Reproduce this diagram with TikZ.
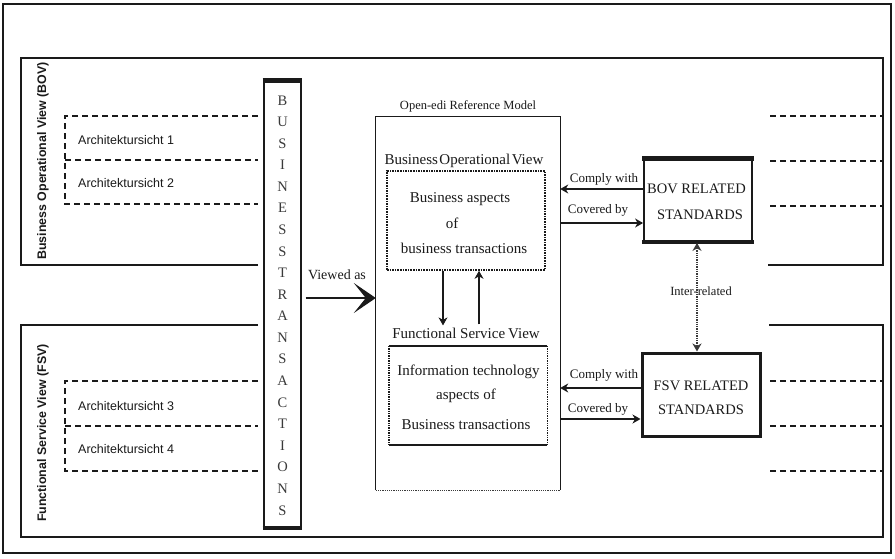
\documentclass[tikz,border=0pt]{standalone}
\usepackage{fontspec}
\setmainfont{Liberation Serif}
\setsansfont{Liberation Sans}
\usetikzlibrary{arrows.meta,calc}
\definecolor{ink}{HTML}{1A1A1A}
\definecolor{soft}{HTML}{3A3A3A}
\begin{document}
\begin{tikzpicture}[x=1pt,y=-1pt,
  band/.style={draw=ink, line width=1.1pt},
  dashline/.style={draw=ink, line width=1.1pt, dash pattern=on 6pt off 4pt},
  sanslbl/.style={font=\sffamily\fontsize{12.5}{14}\selectfont, inner sep=0, anchor=base west, text=ink},
  sidelbl/.style={font=\sffamily\bfseries\fontsize{12.4}{14}\selectfont, rotate=90, inner sep=0, text=ink},
  lbl/.style={inner sep=0, anchor=base, text=ink},
  big/.style={font=\fontsize{15}{17}\selectfont},
  mid/.style={font=\fontsize{13}{15}\selectfont},
  std/.style={font=\fontsize{14.5}{17}\selectfont},
  arr/.style={draw=ink, line width=1.1pt, -{Stealth[length=8pt,width=9pt,inset=2.5pt]}},
  column/.style={draw=ink, line width=1.4pt, minimum width=37pt, minimum height=450pt, inner sep=0, fill=white},
  plain/.style={minimum width=#1, inner sep=0},
]
\useasboundingbox (0,0) rectangle (895,558);
\fill[white] (0,0) rectangle (895,558);

% outer frame
\draw[draw=ink, line width=1.5pt] (3,4) rectangle (891,553);

% Business Operational View band
\draw[band] (258,265) -- (21,265) -- (21,58) -- (883,58) -- (883,265) -- (768,265);
% Functional Service View band
\draw[band] (258,325) -- (21,325) -- (21,537) -- (883,537) -- (883,325) -- (769,325);

\node[sidelbl] (bovside) at (43,161) {Business Operational View (BOV)};
\node[sidelbl] (fsvside) at (43,433) {Functional Service View (FSV)};

% dashed architecture views, left
\draw[dashline] (258,116) -- (65,116) -- (65,204) -- (258,204);
\draw[dashline] (65,160) -- (258,160);
\draw[dashline] (258,381) -- (65,381) -- (65,471) -- (258,471);
\draw[dashline] (65,426) -- (258,426);
\node[sanslbl] (av1) at (78,144) {Architektursicht 1};
\node[sanslbl] (av2) at (78,187) {Architektursicht 2};
\node[sanslbl] (av3) at (78,410) {Architektursicht 3};
\node[sanslbl] (av4) at (78,453) {Architektursicht 4};

% dashed architecture views, right
\foreach \yy in {116,161,206,381,426,471}
  \draw[dashline] (770,\yy) -- (882,\yy);

% Business transactions column
\node[column] (bt) at (282.5,304) {};
\draw[ink, line width=5pt, shorten <=-0.7pt, shorten >=-0.7pt]
  ([yshift=-2.5pt]bt.north west) -- ([yshift=-2.5pt]bt.north east);
\draw[ink, line width=4pt, shorten <=-0.7pt, shorten >=-0.7pt]
  ([yshift=2pt]bt.south west) -- ([yshift=2pt]bt.south east);
\foreach \l [count=\i from 0] in {B,U,S,I,N,E,S,S,T,R,A,N,S,A,C,T,I,O,N,S}
  \node[lbl, font=\fontsize{14.5}{16}\selectfont, text=soft] (btl\i) at (282.5,{105+21.58*\i}) {\l};

% Open-edi Reference Model
\node[plain=184pt, minimum height=373pt] (orm) at (468,303.5) {};
\draw[draw=ink, line width=1.2pt] (orm.south west) -- (orm.north west) -- (orm.north east) -- (orm.south east);
\draw[draw=soft, line width=1.2pt, densely dotted] (orm.south west) -- (orm.south east);
\node[lbl, font=\fontsize{12.5}{14}\selectfont] (ormtitle) at (468,109) {Open-edi Reference Model};

% business operational view inside the model
\node[lbl, big] (bovtitle) at (464,164) {Business\hspace{1.5pt}Operational\hspace{1.5pt}View};
\node[draw=ink, densely dotted, line width=1.6pt, plain=158pt, minimum height=99pt] (bovin) at (466,220.5) {};
\node[lbl, big] (bovt1) at (460,202) {Business aspects};
\node[lbl, big] (bovt2) at (452,228) {of};
\node[lbl, big] (bovt3) at (464,253) {business transactions};

% functional service view inside the model
\node[lbl, big] (fsvtitle) at (466,338) {Functional Service\hspace{3pt}View};
\node[plain=158pt, minimum height=99pt] (fsvin) at (468,395.5) {};
\draw[ink, line width=1.8pt] (fsvin.north west) -- (fsvin.north east);
\draw[ink, line width=1.8pt] (fsvin.south west) -- (fsvin.south east);
\draw[ink, line width=1.4pt, densely dotted] (fsvin.north west) -- (fsvin.south west);
\draw[ink, line width=1.4pt, densely dotted] (fsvin.north east) -- (fsvin.south east);
\node[lbl, big] (fsvt1) at (468.5,375) {Information technology};
\node[lbl, big] (fsvt2) at (466,399) {aspects of};
\node[lbl, big] (fsvt3) at (466,429) {Business transactions};

% vertical links between the two views
\coordinate (xdown) at (443,0);
\coordinate (xup) at (479,0);
\draw[arr] (bovin.south -| xdown) -- ([yshift=2pt]fsvtitle.north -| xdown);
\draw[arr] ([yshift=3pt]fsvtitle.north -| xup) -- (bovin.south -| xup);

% viewed as
\coordinate (yva) at (0,298);
\draw[draw=ink, line width=1.3pt, shorten <=4pt, -{Stealth[length=22pt,width=30pt,inset=12pt]}]
  (bt.east |- yva) -- (orm.west |- yva);
\node[lbl, font=\fontsize{14}{16}\selectfont] (vatext) at (337,279) {Viewed as};

% BOV related standards
\node[draw=ink, line width=1.8pt, plain=108pt, minimum height=84pt] (bovstd) at (698,200) {};
\draw[ink, line width=4.5pt, shorten <=-0.9pt, shorten >=-0.9pt]
  ([yshift=-1.5pt]bovstd.north west) -- ([yshift=-1.5pt]bovstd.north east);
\draw[ink, line width=4pt, shorten <=-0.9pt, shorten >=-0.9pt]
  ([yshift=1.2pt]bovstd.south west) -- ([yshift=1.2pt]bovstd.south east);
\node[lbl, std] (bovs1) at (696.5,193) {BOV RELATED};
\node[lbl, std] (bovs2) at (700,219) {STANDARDS};

% FSV related standards
\node[draw=ink, line width=3pt, plain=118pt, minimum height=83pt] (fsvstd) at (701,394.5) {};
\node[lbl, std] (fsvs1) at (701,390) {FSV RELATED};
\node[lbl, std] (fsvs2) at (701,414) {STANDARDS};

% comply with / covered by
\coordinate (ybc) at (0,189);
\coordinate (ybv) at (0,223);
\coordinate (yfc) at (0,388);
\coordinate (yfv) at (0,419);
\draw[arr] (bovstd.west |- ybc) -- (orm.east |- ybc);
\draw[arr] (orm.east |- ybv) -- (bovstd.west |- ybv);
\draw[arr] (fsvstd.west |- yfc) -- (orm.east |- yfc);
\draw[arr] (orm.east |- yfv) -- (fsvstd.west |- yfv);
\node[lbl, mid] (bc) at (604,182) {Comply with};
\node[lbl, mid] (bv) at (598,213) {Covered by};
\node[lbl, mid] (fc) at (604,378) {Comply with};
\node[lbl, mid] (fv) at (598,412) {Covered by};

% inter-related
\node[lbl, font=\fontsize{12.5}{14}\selectfont] (inter) at (701,295) {Inter-related};
\coordinate (xir) at (697,0);
\draw[draw=soft, line width=1.3pt, densely dotted, {Stealth[length=8pt,width=9pt,inset=2.5pt]}-{Stealth[length=8pt,width=9pt,inset=2.5pt]}]
  (bovstd.south -| xir) -- (fsvstd.north -| xir);
\end{tikzpicture}
\end{document}
